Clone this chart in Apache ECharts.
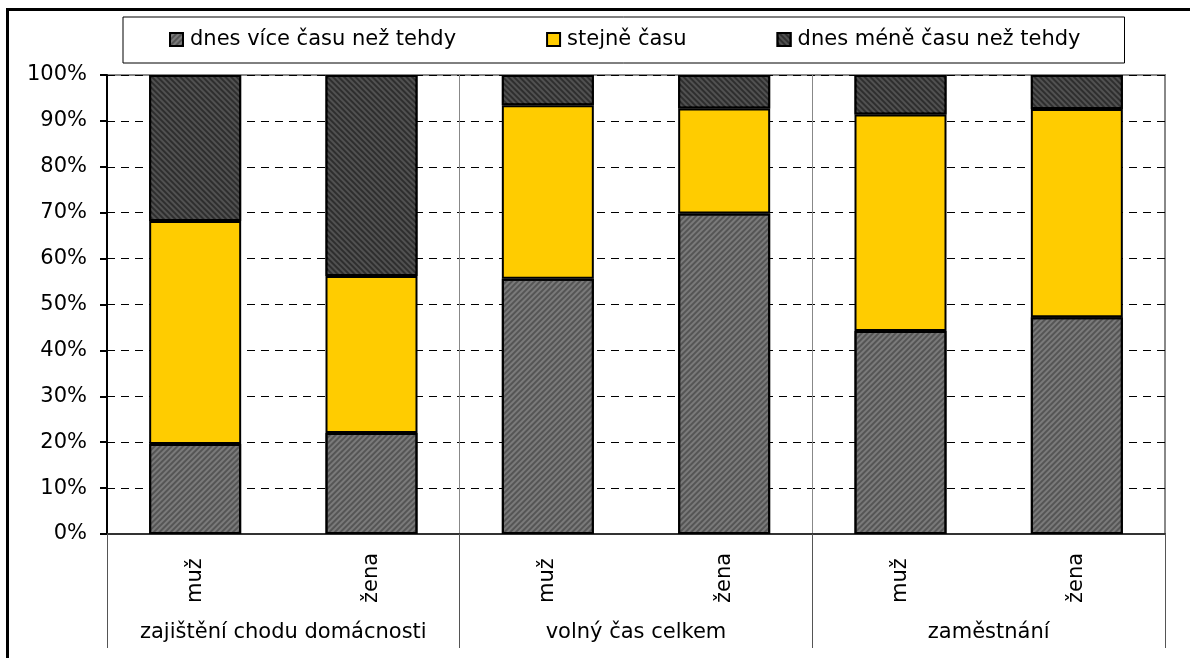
<!DOCTYPE html>
<html>
<head>
<meta charset="utf-8">
<script src="https://cdn.jsdelivr.net/npm/echarts@6/dist/echarts.min.js"></script>
<style>
  html, body { margin: 0; padding: 0; background: #fff; }
  #chart { width: 1190px; height: 658px; }
</style>
</head>
<body>
<div id="chart"></div>
<script>
// categories: sex inside each activity group
const sexes = ['muž', 'žena', 'muž', 'žena', 'muž', 'žena'];
const groups = ['zajištění chodu domácnosti', 'volný čas celkem', 'zaměstnání'];

// shares in %
const moreTime = [19.6, 22.0, 55.6, 69.8, 44.2, 47.2];
const sameTime = [48.6, 34.2, 37.8, 22.9, 47.2, 45.4];
const lessTime = [31.8, 43.8, 6.6, 7.3, 8.6, 7.4];

const seriesNames = ['dnes více času než tehdy', 'stejně času', 'dnes méně času než tehdy'];
const yTicks = [0, 10, 20, 30, 40, 50, 60, 70, 80, 90, 100];

const font = '"DejaVu Sans", Verdana, sans-serif';
const chart = echarts.init(document.getElementById('chart'));

const barBase = {
    type: 'bar',
    stack: 'total',
    barWidth: 92,
    xAxisIndex: 0,
    yAxisIndex: 0
};

const option = {
    animation: false,
    backgroundColor: '#fff',
    textStyle: { fontFamily: font },
    graphic: [
        {
            // outer frame (only left and top edges are visible)
            type: 'rect',
            shape: { x: 7.5, y: 9.5, width: 1400, height: 900 },
            style: { fill: 'none', stroke: '#000', lineWidth: 3 },
            z: 10
        }
    ],
    legend: {
        data: seriesNames,
        left: 123,
        top: 17,
        padding: [12, 44, 13, 46],
        itemGap: 90,
        itemWidth: 13,
        itemHeight: 13,
        borderColor: '#000',
        borderWidth: 1,
        icon: 'rect',
        textStyle: { fontFamily: font, fontSize: 21, color: '#000', lineHeight: 21, padding: [0, 0, 0, 2] }
    },
    grid: {
        left: 107,
        right: 25,
        top: 75,
        bottom: 124,
        show: true,
        borderColor: '#888',
        borderWidth: 2
    },
    xAxis: [
        {
            type: 'category',
            data: sexes,
            axisLine: { show: false },
            axisTick: { show: false },
            axisLabel: {
                interval: 0,
                rotate: 90,
                align: 'left',
                verticalAlign: 'middle',
                margin: 69,
                color: '#000',
                fontFamily: font,
                fontSize: 21
            }
        },
        {
            type: 'category',
            data: groups,
            position: 'bottom',
            axisLine: { show: true, lineStyle: { color: '#333', width: 2 } },
            axisTick: { show: true, length: 114, interval: 0, lineStyle: { color: '#555', width: 1 } },
            splitLine: { show: true, interval: 0, lineStyle: { color: '#888', width: 1 } },
            axisLabel: {
                interval: 0,
                hideOverlap: false,
                margin: 88,
                color: '#000',
                fontFamily: font,
                fontSize: 21
            }
        }
    ],
    yAxis: {
        type: 'value',
        min: yTicks[0],
        max: yTicks[yTicks.length - 1],
        interval: 10,
        axisLine: { show: true, lineStyle: { color: '#000', width: 2 } },
        axisTick: { show: true, length: 7, lineStyle: { color: '#000', width: 2 } },
        axisLabel: {
            formatter: '{value}%',
            margin: 20,
            color: '#000',
            fontFamily: font,
            fontSize: 21
        },
        splitLine: { show: true, lineStyle: { color: '#000', width: 1, type: [8, 6] } }
    },
    series: [
        {
            ...barBase,
            name: seriesNames[0],
            data: moreTime,
            itemStyle: {
                color: '#7a7a7a',
                borderColor: '#000',
                borderWidth: 2,
                decal: {
                    symbol: 'rect',
                    symbolSize: 1,
                    dashArrayX: [1, 0],
                    dashArrayY: [2, 2],
                    rotation: -Math.PI / 4,
                    color: 'rgba(40,40,40,0.45)'
                }
            }
        },
        {
            ...barBase,
            name: seriesNames[1],
            data: sameTime,
            itemStyle: { color: '#FFCC00', borderColor: '#000', borderWidth: 2 }
        },
        {
            ...barBase,
            name: seriesNames[2],
            data: lessTime,
            itemStyle: {
                color: '#2e2e2e',
                borderColor: '#000',
                borderWidth: 2,
                decal: {
                    symbol: 'rect',
                    symbolSize: 1,
                    dashArrayX: [1, 0],
                    dashArrayY: [2, 2],
                    rotation: Math.PI / 4,
                    color: 'rgba(110,110,110,0.55)'
                }
            }
        }
    ]
};

chart.setOption(option);
</script>
</body>
</html>
